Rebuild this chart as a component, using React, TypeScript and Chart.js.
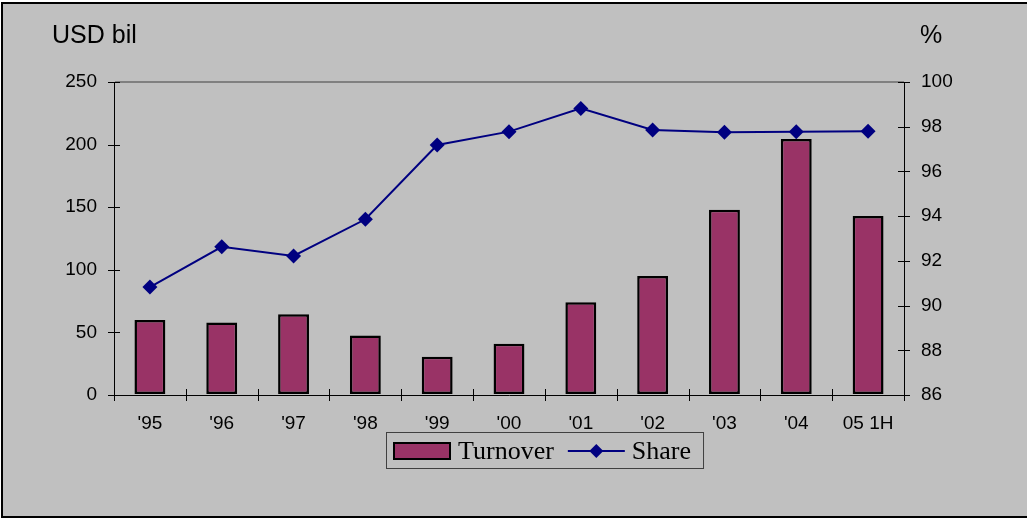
import React, { useEffect, useRef } from "react";
import { Chart, registerables } from "chart.js";

Chart.register(...registerables);

const categories = ["'95", "'96", "'97", "'98", "'99", "'00", "'01", "'02", "'03", "'04", "05 1H"];
const turnover = [60, 58, 64.5, 47.5, 30.5, 41, 74, 95, 148, 204.5, 143];
const share = [90.83, 92.63, 92.22, 93.86, 97.18, 97.78, 98.82, 97.85, 97.75, 97.78, 97.8];
const leftTitle = "USD bil";
const rightTitle = "%";
const legendLabels = ["Turnover", "Share"];

const BAR = "#993366";
const LINE = "#000080";
const BG = "#c0c0c0";
const SANS = "Arial, 'Liberation Sans', sans-serif";
const SERIF = "'Times New Roman', 'Liberation Serif', serif";

const decorPlugin = {
  id: "decor",
  beforeDraw(chart: any) {
    const { ctx, width, height } = chart;
    ctx.save();
    ctx.fillStyle = "#ffffff";
    ctx.fillRect(0, 0, width, height);
    ctx.fillStyle = BG;
    ctx.fillRect(2, 3, width - 2, height - 5);
    ctx.strokeStyle = "#000";
    ctx.lineWidth = 2;
    ctx.strokeRect(2, 3, width - 1, height - 5);
    ctx.restore();
  },
  beforeDatasetsDraw(chart: any) {
    const { ctx, chartArea, scales } = chart;
    const { left, right, bottom } = chartArea;
    const x = scales.x, y = scales.y, y1 = scales.y1;
    ctx.save();
    ctx.strokeStyle = "#000";
    ctx.lineWidth = 1;
    const seg = (x0: number, y0: number, x2: number, y2: number) => {
      ctx.beginPath();
      ctx.moveTo(x0, y0);
      ctx.lineTo(x2, y2);
      ctx.stroke();
    };
    y.ticks.forEach((t: any) => {
      const py = Math.round(y.getPixelForValue(t.value)) + 0.5;
      seg(left - 6, py, left + 6, py);
    });
    y1.ticks.forEach((t: any) => {
      const py = Math.round(y1.getPixelForValue(t.value)) + 0.5;
      seg(right - 6, py, right + 6, py);
    });
    const n = categories.length;
    for (let i = 0; i <= n; i++) {
      let px: number;
      if (i === 0) px = left;
      else if (i === n) px = right;
      else px = (x.getPixelForValue(i - 1) + x.getPixelForValue(i)) / 2;
      px = Math.round(px) + 0.5;
      seg(px, bottom - 6, px, bottom + 6);
    }
    ctx.restore();
  },
  afterDraw(chart: any) {
    const { ctx } = chart;
    ctx.save();
    // axis titles
    ctx.fillStyle = "#000";
    ctx.font = `25px ${SANS}`;
    ctx.textBaseline = "alphabetic";
    ctx.textAlign = "left";
    ctx.fillText(leftTitle, 52, 43);
    ctx.fillText(rightTitle, 920, 43);

    // legend
    ctx.font = `26px ${SERIF}`;
    const w1 = ctx.measureText(legendLabels[0]).width;
    const w2 = ctx.measureText(legendLabels[1]).width;
    const boxLeft = 386;
    const sw = { x: boxLeft + 8, y: 443, w: 56, h: 16 };
    const t1x = sw.x + sw.w + 8;
    const lx0 = t1x + w1 + 14;
    const lx1 = lx0 + 57;
    const t2x = lx1 + 7;
    const boxRight = t2x + w2 + 12;
    ctx.fillStyle = BG;
    ctx.fillRect(boxLeft, 432, boxRight - boxLeft, 37);
    ctx.strokeStyle = "#404040";
    ctx.lineWidth = 1;
    ctx.strokeRect(boxLeft + 0.5, 432.5, boxRight - boxLeft, 36);

    ctx.fillStyle = BAR;
    ctx.fillRect(sw.x, sw.y, sw.w, sw.h);
    ctx.strokeStyle = "#000";
    ctx.lineWidth = 2;
    ctx.strokeRect(sw.x, sw.y, sw.w, sw.h);

    ctx.fillStyle = "#000";
    ctx.fillText(legendLabels[0], t1x, 459);
    ctx.fillText(legendLabels[1], t2x, 459);

    ctx.strokeStyle = LINE;
    ctx.lineWidth = 2;
    ctx.beginPath();
    ctx.moveTo(lx0, 451);
    ctx.lineTo(lx1, 451);
    ctx.stroke();
    const cx = (lx0 + lx1) / 2;
    const r = 7;
    ctx.fillStyle = LINE;
    ctx.beginPath();
    ctx.moveTo(cx, 451 - r);
    ctx.lineTo(cx + r, 451);
    ctx.lineTo(cx, 451 + r);
    ctx.lineTo(cx - r, 451);
    ctx.closePath();
    ctx.fill();
    ctx.restore();
  },
};

export default function App() {
  const ref = useRef<HTMLCanvasElement | null>(null);

  useEffect(() => {
    if (!ref.current) return;
    const tickFont = { family: SANS, size: 19 };
    const chart = new Chart(ref.current, {
      type: "bar",
      data: {
        labels: categories,
        datasets: [
          {
            type: "line",
            label: legendLabels[1],
            data: share,
            yAxisID: "y1",
            borderColor: LINE,
            backgroundColor: LINE,
            borderWidth: 2,
            pointStyle: "rectRot",
            pointRadius: 7.5,
            pointBackgroundColor: LINE,
            pointBorderColor: LINE,
            pointBorderWidth: 0,
            tension: 0,
            order: 0,
          } as any,
          {
            type: "bar",
            label: legendLabels[0],
            data: turnover,
            yAxisID: "y",
            backgroundColor: BAR,
            borderColor: "#000",
            borderWidth: 2.5,
            borderSkipped: false,
            barPercentage: 0.43,
            categoryPercentage: 1,
            order: 1,
          } as any,
        ],
      },
      options: {
        animation: false,
        responsive: true,
        maintainAspectRatio: false,
        layout: { padding: { top: 82, left: 0, right: 0, bottom: 0 } },
        plugins: {
          legend: { display: false },
          tooltip: { enabled: false },
          title: { display: false },
        },
        scales: {
          x: {
            grid: { display: false, drawTicks: false },
            border: { display: true, color: "#000", width: 1 },
            ticks: { font: tickFont, color: "#000", padding: 17, maxRotation: 0, autoSkip: false },
            afterFit: (s: any) => {
              s.height = 124;
            },
          },
          y: {
            position: "left",
            min: 0,
            max: 250,
            ticks: { stepSize: 50, font: tickFont, color: "#000", padding: 17 },
            grid: {
              drawTicks: false,
              color: (c: any) => (c.tick && c.tick.value === 250 ? "#808080" : "rgba(0,0,0,0)"),
              lineWidth: 2,
            },
            border: { display: true, color: "#000", width: 1 },
            afterFit: (s: any) => {
              s.width = 114;
            },
          },
          y1: {
            position: "right",
            min: 86,
            max: 100,
            ticks: { stepSize: 2, font: tickFont, color: "#000", padding: 17 },
            grid: { display: false, drawTicks: false },
            border: { display: true, color: "#000", width: 1 },
            afterFit: (s: any) => {
              s.width = 123;
            },
          },
        },
      },
      plugins: [decorPlugin],
    });
    return () => chart.destroy();
  }, []);

  return (
    <div style={{ position: "fixed", left: 0, top: 0, width: 1027, height: 519 }}>
      <canvas ref={ref} />
    </div>
  );
}
